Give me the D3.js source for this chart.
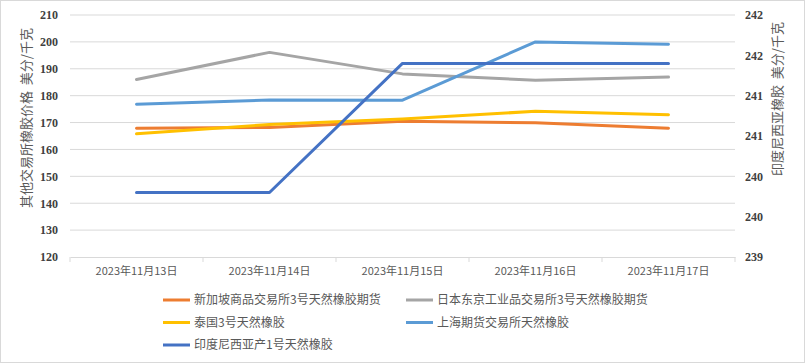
<!DOCTYPE html>
<html>
<head>
<meta charset="utf-8">
<script src="https://cdn.jsdelivr.net/npm/d3@7"></script>
<style>
  body { margin: 0; background: #fff; }
  svg { display: block; }
</style>
</head>
<body>
<svg id="drawing_region"></svg>
<script>
// data
const dates = ['2023年11月13日', '2023年11月14日', '2023年11月15日', '2023年11月16日', '2023年11月17日'];
const singapore = [167.9, 168.2, 170.5, 169.9, 167.9];
const japan     = [186.0, 196.1, 188.1, 185.7, 186.9];
const thailand  = [165.8, 169.3, 171.3, 174.2, 172.9];
const shanghai  = [176.8, 178.4, 178.3, 200.0, 199.1];
const indonesia = [239.8, 239.8, 241.4, 241.4, 241.4];
const leftTicks = [120, 130, 140, 150, 160, 170, 180, 190, 200, 210];
const rightTicks = [239, 239.5, 240, 240.5, 241, 241.5, 242];

const series = [
    { name: '新加坡商品交易所3号天然橡胶期货', values: singapore, color: '#ED7D31', axis: 'left' },
    { name: '日本东京工业品交易所3号天然橡胶期货', values: japan, color: '#A5A5A5', axis: 'left' },
    { name: '泰国3号天然橡胶', values: thailand, color: '#FFC000', axis: 'left' },
    { name: '上海期货交易所天然橡胶', values: shanghai, color: '#5B9BD5', axis: 'left' },
    { name: '印度尼西亚产1号天然橡胶', values: indonesia, color: '#4472C4', axis: 'right' }
];

const config = {
    width: 805,
    height: 363,
    margin: { top: 15, right: 70, bottom: 106, left: 70 }
};

const svg = d3.select('#drawing_region')
    .attr('width', config.width)
    .attr('height', config.height);

// outer frame
svg.append('rect')
    .attr('x', 0.5).attr('y', 0.5)
    .attr('width', config.width - 1).attr('height', config.height - 1)
    .attr('fill', '#fff')
    .attr('stroke', '#d9d9d9');

const inner_width = config.width - config.margin.left - config.margin.right;
const inner_height = config.height - config.margin.top - config.margin.bottom;

const chart = svg.append('g')
    .attr('transform', `translate(${config.margin.left}, ${config.margin.top})`);

const xscale = d3.scaleBand()
    .domain(dates)
    .range([0, inner_width]);

const yleft = d3.scaleLinear()
    .domain([120, 210])
    .range([inner_height, 0]);

const yright = d3.scaleLinear()
    .domain([239, 242])
    .range([inner_height, 0]);

// gridlines
chart.append('g')
    .selectAll('line')
    .data(leftTicks.slice(1))
    .join('line')
    .attr('x1', 0).attr('x2', inner_width)
    .attr('y1', d => yleft(d)).attr('y2', d => yleft(d))
    .attr('stroke', '#d9d9d9')
    .attr('stroke-width', 1);

// x axis
const xaxis = d3.axisBottom(xscale).tickSize(0).tickPadding(10);
const xaxis_group = chart.append('g')
    .attr('transform', `translate(0, ${inner_height})`)
    .call(xaxis);
xaxis_group.select('.domain').attr('stroke', '#d9d9d9');
xaxis_group.selectAll('text')
    .attr('fill', '#595959')
    .style('font-family', '"Noto Sans CJK SC", sans-serif')
    .style('font-size', '11px');
xaxis_group.selectAll('.boundary')
    .data(dates.concat(['end']))
    .join('line')
    .attr('class', 'boundary')
    .attr('x1', (d, i) => i * xscale.bandwidth())
    .attr('x2', (d, i) => i * xscale.bandwidth())
    .attr('y1', 0).attr('y2', 5)
    .attr('stroke', '#d9d9d9');

// left axis
const yaxis_left = d3.axisLeft(yleft).tickValues(leftTicks).tickSize(0).tickPadding(12);
const yl_group = chart.append('g').call(yaxis_left);
yl_group.select('.domain').remove();

// right axis
const yaxis_right = d3.axisRight(yright).tickValues(rightTicks)
    .tickFormat(d3.format('.0f')).tickSize(0).tickPadding(10);
const yr_group = chart.append('g')
    .attr('transform', `translate(${inner_width}, 0)`)
    .call(yaxis_right);
yr_group.select('.domain').remove();

[yl_group, yr_group].forEach(g => {
    g.selectAll('text')
        .attr('fill', '#404040')
        .style('font-family', '"Liberation Serif", serif')
        .style('font-weight', 'bold')
        .style('font-size', '12px');
});

// axis titles
svg.append('text')
    .attr('transform', `translate(31, 118) rotate(-90)`)
    .attr('text-anchor', 'middle')
    .attr('fill', '#595959')
    .style('font-family', '"Noto Sans CJK SC", sans-serif')
    .style('font-size', '13px')
    .text('其他交易所橡胶价格\u00a0\u00a0美分/千克');

svg.append('text')
    .attr('transform', `translate(782, 99) rotate(-90)`)
    .attr('text-anchor', 'middle')
    .attr('fill', '#595959')
    .style('font-family', '"Noto Sans CJK SC", sans-serif')
    .style('font-size', '13px')
    .text('印度尼西亚橡胶\u00a0\u00a0美分/千克');

// lines
series.forEach(s => {
    const yscale = s.axis === 'left' ? yleft : yright;
    const line = d3.line()
        .x((d, i) => xscale(dates[i]) + xscale.bandwidth() / 2)
        .y(d => yscale(d));
    chart.append('path')
        .datum(s.values)
        .attr('d', line)
        .attr('fill', 'none')
        .attr('stroke', s.color)
        .attr('stroke-width', 3)
        .attr('stroke-linejoin', 'round')
        .attr('stroke-linecap', 'round');
});

// legend
const legend = svg.append('g');
const legend_item = legend.selectAll('g')
    .data(series)
    .join('g')
    .attr('transform', (d, i) => `translate(${i % 2 === 0 ? 163 : 406}, ${300 + Math.floor(i / 2) * 22.5})`);
legend_item.append('line')
    .attr('x1', 0).attr('x2', 27)
    .attr('stroke', d => d.color)
    .attr('stroke-width', 3);
legend_item.append('text')
    .attr('x', 31)
    .attr('dy', '0.35em')
    .attr('fill', '#595959')
    .style('font-family', '"Noto Sans CJK SC", sans-serif')
    .style('font-size', '12px')
    .text(d => d.name);
</script>
</body>
</html>
